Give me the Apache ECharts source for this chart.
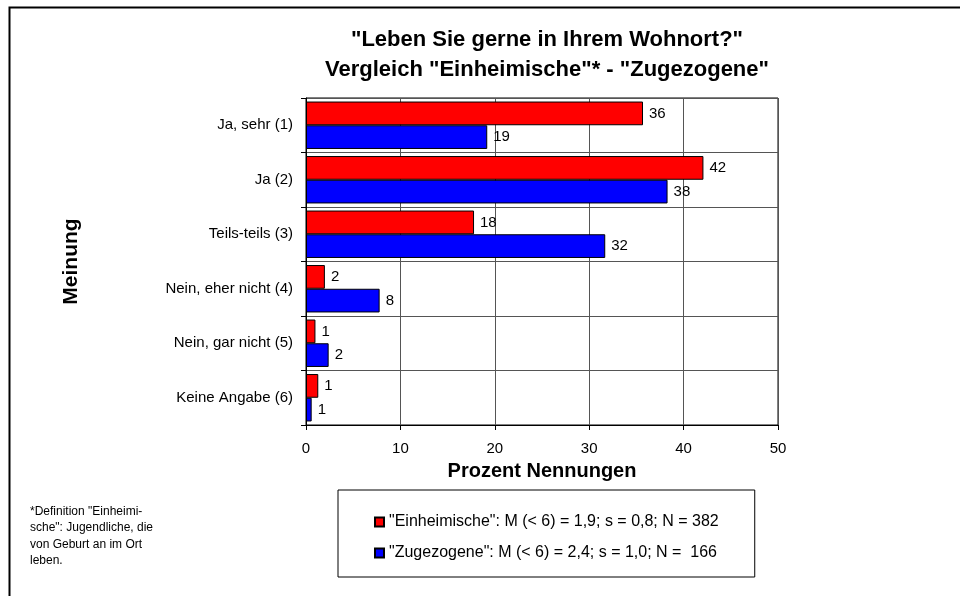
<!DOCTYPE html>
<html>
<head>
<meta charset="utf-8">
<script src="https://cdn.jsdelivr.net/npm/echarts@6/dist/echarts.min.js"></script>
<style>
  html, body { margin: 0; padding: 0; background: #fff; }
  #chart { width: 960px; height: 596px; }
</style>
</head>
<body>
<div id="chart"></div>
<script>
// categories top to bottom
const categories = ['Ja, sehr (1)', 'Ja (2)', 'Teils-teils (3)', 'Nein, eher nicht (4)', 'Nein, gar nicht (5)', 'Keine Angabe (6)'];
// percent values
const einheimische = [35.7, 42.1, 17.8, 2.0, 1.0, 1.3];
const zugezogene = [19.2, 38.3, 31.7, 7.8, 2.4, 0.6];
const xTicks = [0, 50, 10];

const legendText = {
  'Einheimische': '"Einheimische": M (< 6) = 1,9; s = 0,8; N = 382',
  'Zugezogene': '"Zugezogene": M (< 6) = 2,4; s = 1,0; N =  166'
};

const font = '"Liberation Sans", Arial, sans-serif';
const chart = echarts.init(document.getElementById('chart'));

function barLabel() {
  return {
    show: true,
    position: 'right',
    distance: 6,
    color: '#000',
    fontSize: 15,
    fontFamily: font,
    formatter: p => Math.round(p.value)
  };
}

chart.setOption({
  animation: false,
  backgroundColor: '#fff',
  textStyle: { fontFamily: font },
  title: {
    text: '"Leben Sie gerne in Ihrem Wohnort?"\nVergleich "Einheimische"* - "Zugezogene"',
    left: 542,
    top: 20,
    textAlign: 'center',
    textStyle: { fontSize: 22, fontWeight: 'bold', color: '#000', lineHeight: 30, fontFamily: font }
  },
  legend: {
    data: ['Einheimische', 'Zugezogene'],
    orient: 'vertical',
    left: 338,
    top: 490,
    padding: [24, 36, 16, 36],
    itemGap: 15,
    itemWidth: 9,
    itemHeight: 9,
    icon: 'rect',
    borderColor: '#000',
    borderWidth: 1,
    formatter: n => legendText[n],
    textStyle: { fontSize: 16, color: '#000', fontFamily: font }
  },
  grid: {
    left: 306,
    right: 182,
    top: 98,
    bottom: 171,
    show: true,
    borderColor: '#000',
    borderWidth: 1
  },
  xAxis: {
    type: 'value',
    min: xTicks[0],
    max: xTicks[1],
    interval: xTicks[2],
    name: 'Prozent Nennungen',
    nameLocation: 'middle',
    nameGap: 36,
    nameTextStyle: { fontSize: 20, fontWeight: 'bold', color: '#000', fontFamily: font },
    axisLine: { show: true, lineStyle: { color: '#000' } },
    axisTick: { show: true, length: 5, lineStyle: { color: '#000' } },
    axisLabel: { fontSize: 15, color: '#000', margin: 16 },
    splitLine: { show: true, lineStyle: { color: '#555' } }
  },
  yAxis: {
    type: 'category',
    inverse: true,
    data: categories,
    name: 'Meinung',
    nameLocation: 'middle',
    nameRotate: 90,
    nameGap: 224,
    nameTextStyle: { fontSize: 21, fontWeight: 'bold', color: '#000', fontFamily: font },
    axisLine: { show: true, lineStyle: { color: '#000' } },
    axisTick: { show: true, length: 5, lineStyle: { color: '#000' } },
    axisLabel: { fontSize: 15, color: '#000', margin: 13 },
    splitLine: { show: true, lineStyle: { color: '#555' } }
  },
  series: [
    {
      name: 'Einheimische',
      type: 'bar',
      data: einheimische,
      barGap: '0%',
      barCategoryGap: '13%',
      itemStyle: { color: '#ff0000', borderColor: '#000', borderWidth: 1 },
      label: barLabel()
    },
    {
      name: 'Zugezogene',
      type: 'bar',
      data: zugezogene,
      itemStyle: { color: '#0000ff', borderColor: '#000', borderWidth: 1 },
      label: barLabel()
    }
  ],
  graphic: [
    {
      type: 'rect',
      left: 7,
      top: 5,
      shape: { width: 1000, height: 700 },
      style: { fill: 'none', stroke: '#000', lineWidth: 2 },
      silent: true
    },
    {
      type: 'text',
      left: 30,
      top: 503,
      style: {
        text: '*Definition "Einheimi-\nsche": Jugendliche, die\nvon Geburt an im Ort\nleben.',
        fontSize: 12,
        lineHeight: 16.5,
        fill: '#000',
        fontFamily: font
      }
    }
  ]
});
</script>
</body>
</html>
